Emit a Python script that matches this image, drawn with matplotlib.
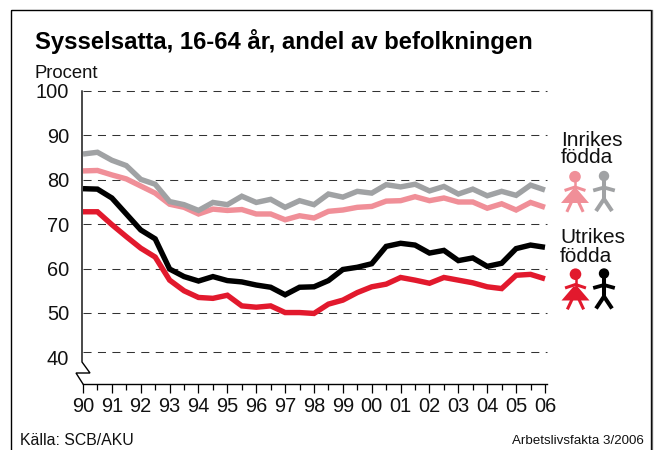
import numpy as np
import matplotlib
matplotlib.use('Agg')
import matplotlib.pyplot as plt
from matplotlib.patches import Circle, Polygon, Rectangle

plt.rcParams['font.family'] = ['Liberation Sans', 'DejaVu Sans']
plt.rcParams['lines.scale_dashes'] = False

W, H = 654, 450

years = np.arange(1990, 2006.5, 0.5)
year_labels = ['90', '91', '92', '93', '94', '95', '96', '97', '98', '99',
               '00', '01', '02', '03', '04', '05', '06']
y_labels = [100, 90, 80, 70, 60, 50, 40]
# the lowest dashed line sits above the 40 label in the original
grid_levels = [100, 90, 80, 70, 60, 50, 41.2]

inrikes_man = [85.8, 86.2, 84.4, 83.2, 80.1, 79.0, 75.1, 74.4, 73.1, 74.9, 74.4,
               76.3, 74.9, 75.6, 73.8, 75.3, 74.4, 76.8, 76.1, 77.4, 77.0, 78.9,
               78.4, 79.0, 77.5, 78.5, 76.8, 77.9, 76.4, 77.4, 76.5, 78.8, 77.7]
inrikes_kvinna = [82.0, 82.1, 81.1, 80.2, 78.6, 77.0, 74.5, 73.8, 72.3, 73.4, 73.1,
                  73.3, 72.3, 72.3, 71.0, 71.9, 71.4, 72.9, 73.2, 73.8, 74.0, 75.2,
                  75.3, 76.2, 75.3, 75.9, 75.0, 75.0, 73.6, 74.6, 73.2, 74.9, 73.8]
utrikes_man = [78.0, 77.9, 75.9, 72.3, 68.7, 66.7, 59.9, 58.2, 57.2, 58.2, 57.3,
               57.0, 56.3, 55.8, 54.1, 55.8, 55.9, 57.3, 59.8, 60.3, 61.1, 65.0,
               65.7, 65.3, 63.5, 64.1, 61.8, 62.4, 60.5, 61.2, 64.5, 65.3, 64.8]
utrikes_kvinna = [72.8, 72.8, 69.9, 67.2, 64.6, 62.6, 57.4, 55.0, 53.5, 53.3, 54.0,
                  51.6, 51.3, 51.6, 50.1, 50.1, 49.9, 52.0, 52.9, 54.6, 55.9, 56.5,
                  58.0, 57.4, 56.7, 58.0, 57.4, 56.8, 55.9, 55.5, 58.5, 58.7, 57.7]

GRAY = '#A0A2A4'
PINK = '#F08F98'
RED = '#E2192D'
BLACK = '#000000'


def woman(ov, cx, dy, col):
    ov.add_patch(Circle((cx, 176.7 + dy), 5.8, color=col, lw=0))
    ov.plot([cx, cx], [180 + dy, 192 + dy], color=col, lw=1.8)
    ov.plot([cx - 9, cx, cx + 9], [190 + dy, 187 + dy, 190 + dy], color=col, lw=2.2)
    ov.add_patch(Polygon([(cx - 2, 189 + dy), (cx + 2, 189 + dy), (cx + 14, 203 + dy), (cx - 14, 203 + dy)],
                         color=col, lw=0))
    ov.plot([cx - 3.5, cx - 7.5], [202 + dy, 210.5 + dy], color=col, lw=2.2)
    ov.plot([cx + 3.5, cx + 7.5], [202 + dy, 210.5 + dy], color=col, lw=2.2)


def man(ov, cx, dy, col):
    ov.add_patch(Circle((cx, 176 + dy), 5.2, color=col, lw=0))
    ov.plot([cx, cx], [178 + dy, 200 + dy], color=col, lw=2.9, solid_capstyle='butt')
    ov.plot([cx - 9, cx, cx + 9], [190 + dy, 187.5 + dy, 190 + dy], color=col, lw=2.7)
    ov.plot([cx - 8, cx, cx + 8], [211 + dy, 199 + dy, 211 + dy], color=col, lw=2.9,
            solid_joinstyle='miter', solid_capstyle='butt')


fig = plt.figure(figsize=(W / 100, H / 100), dpi=100, facecolor='white')

# pixel overlay for frame, texts and pictograms
ov = fig.add_axes([0, 0, 1, 1], zorder=3)
ov.set_xlim(0, W)
ov.set_ylim(H, 0)
ov.axis('off')

ax = fig.add_axes([83 / W, 1 - 384 / H, (547 - 83) / W, (384 - 91) / H], zorder=2)
ax.patch.set_alpha(0)
ax.set_xlim(1990, 2006.07)
ax.set_ylim(100 - (384 - 91) / 4.44, 100)

for level in grid_levels:
    ax.plot([1990, 2006.07], [level, level], color='#333333', lw=0.75,
            dashes=(5.8, 4.6), clip_on=False, zorder=1)

ax.plot(years, inrikes_kvinna, color=PINK, lw=3.9, solid_joinstyle='miter', solid_capstyle='butt', zorder=2)
ax.plot(years, inrikes_man, color=GRAY, lw=3.9, solid_joinstyle='miter', solid_capstyle='butt', zorder=3)
ax.plot(years, utrikes_kvinna, color=RED, lw=3.9, solid_joinstyle='miter', solid_capstyle='butt', zorder=4)
ax.plot(years, utrikes_man, color=BLACK, lw=3.9, solid_joinstyle='miter', solid_capstyle='butt', zorder=5)

for side in ['top', 'right', 'left']:
    ax.spines[side].set_visible(False)
ax.spines['bottom'].set_linewidth(1.0)

ax.set_xticks(np.arange(1990, 2007), year_labels, fontsize=14.4, color='#111111')
ax.set_xticks(np.arange(1990.5, 2006, 1), minor=True)
ax.tick_params(axis='x', which='major', length=6.5, width=0.9, pad=3)
ax.tick_params(axis='x', which='minor', length=4.3, width=0.9)
ax.set_yticks(y_labels, [str(v) for v in y_labels], fontsize=14.4, color='#111111')
ax.tick_params(axis='y', length=0, pad=10)

# y axis with the break at the bottom
ov.plot([82, 82, 90, 76, 83], [91, 362, 373, 373, 384], color='black', lw=1.0,
        solid_joinstyle='miter')

# outer frame, right edge is a double line
ov.add_patch(Rectangle((11, 10), 639.5, 460, fill=False, ec='black', lw=1.0, clip_on=False))
ov.plot([652.3, 652.3], [10, 450], color='#666666', lw=0.9)

ov.text(35, 49, 'Sysselsatta, 16-64 år, andel av befolkningen', fontsize=17.2,
        fontweight='bold', va='baseline', color='black')
ov.text(35, 78, 'Procent', fontsize=13.3, va='baseline', color='#111111')
ov.text(20, 445, 'Källa: SCB/AKU', fontsize=11.4, va='baseline', color='#111111')
ov.text(644, 444, 'Arbetslivsfakta 3/2006', fontsize=9.6, va='baseline', ha='right', color='#111111')

ov.text(561, 145.7, 'Inrikes', fontsize=15, va='baseline', color='#111111')
ov.text(560.5, 163.3, 'födda', fontsize=15, va='baseline', color='#111111')
ov.text(560, 243.3, 'Utrikes', fontsize=15, va='baseline', color='#111111')
ov.text(560, 261.7, 'födda', fontsize=15, va='baseline', color='#111111')

woman(ov, 575, 0, PINK)
man(ov, 604, 0, GRAY)
woman(ov, 575.5, 97.5, RED)
man(ov, 604, 97.5, BLACK)

fig.savefig('out.png', dpi=100)
